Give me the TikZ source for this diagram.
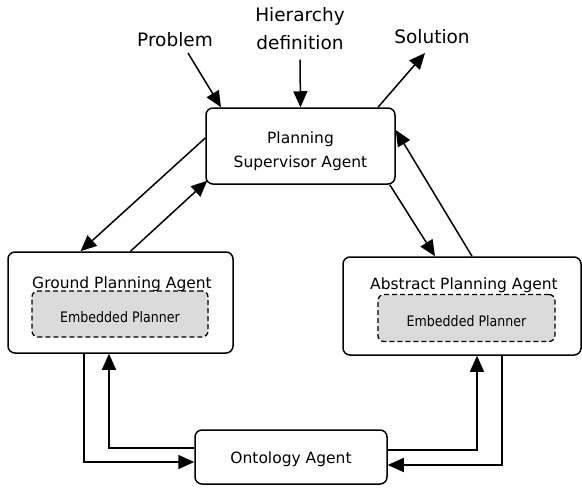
\documentclass[tikz,border=0pt]{standalone}
\usepackage{fontspec}
\setmainfont{DejaVu Sans}
\newfontfamily\condfont{DejaVu Sans}[FakeStretch=0.87]
\usetikzlibrary{arrows.meta}

\begin{document}
\begin{tikzpicture}[x=1pt,y=-1pt]
    \tikzset{agent/.style = {draw, line width=1.5pt,
        rounded corners = 7pt,
        inner sep = 0pt,
        font = \fontsize{15.5}{24}\selectfont,
        align = center
        },
        planner/.style = {draw, line width=1.3pt,
        dash pattern = on 5pt off 3pt,
        fill = black!14,
        rounded corners = 6pt,
        inner sep = 0pt,
        text height = 18pt,
        font = \condfont\fontsize{14.5}{18}\selectfont
        },
        agentname/.style = {font = \fontsize{15.5}{24}\selectfont, align = center},
        input/.style = {font = \fontsize{18.5}{28}\selectfont, align = center},
        arr/.style = {line width=1.5pt, -{Triangle[length=16pt,width=14pt]}}}

    \useasboundingbox (0,0) rectangle (582,488);

    % Draw the agents.
    \node[agent, minimum width=189pt, minimum height=76pt] (sup) at (300.5,146) {};
    \node[agent, minimum width=225pt, minimum height=101pt] (gnd) at (120.5,302.5) {};
    \node[agent, minimum width=238pt, minimum height=98pt] (abs) at (462,306) {};
    \node[agent, minimum width=192pt, minimum height=54pt, text height=17pt] (onto) at (291,457) {Ontology Agent};

    % Names and embedded planners.
    \node[agentname] (supname) at (300.5,151) {Planning\\Supervisor Agent};
    \node[agentname] (gndname) at (122,284) {Ground Planning Agent};
    \node[agentname] (absname) at (464,285) {Abstract Planning Agent};
    \node[planner, minimum width=176pt, minimum height=46pt] (gemb) at (120,314) {Embedded Planner};
    \node[planner, minimum width=177pt, minimum height=47pt] (aemb) at (466.5,318) {Embedded Planner};

    % Inputs and output.
    \node[input] (prob) at (175,40) {Problem};
    \node[input] (hier) at (300,29) {Hierarchy\\definition};
    \node[input] (sol) at (432,37) {Solution};

    \draw[arr] ([shift={(13pt,-13pt)}]prob.center) -- ([xshift=-79.5pt]sup.north);
    \draw[arr] ([yshift=-6pt]hier.south) -- (sup.north);
    \draw[arr] ([xshift=77.5pt]sup.north) -- ([shift={(-7pt,-16pt)}]sol.center);

    % Supervisor <-> planning agents.
    \draw[arr] ([yshift=8pt]sup.west) -- ([xshift=-40pt]gnd.north);
    \draw[arr] ([xshift=10pt]gnd.north) -- ([shift={(2pt,4pt)}]sup.south west);
    \draw[arr] ([xshift=-6pt]sup.south east) -- ([xshift=-27pt]abs.north);
    \draw[arr] ([xshift=10pt]abs.north) -- ([yshift=16pt]sup.east);

    % Planning agents <-> ontology.
    \draw[arr] ([xshift=-36.5pt]gnd.south) |- ([yshift=-5pt]onto.west);
    \draw[arr] ([yshift=9pt]onto.west) -| ([xshift=-11.5pt]gnd.south);
    \draw[arr] ([yshift=7pt]onto.east) -| ([xshift=15pt]abs.south);
    \draw[arr] ([xshift=40pt]abs.south) |- ([yshift=-8pt]onto.east);
\end{tikzpicture}
\end{document}
